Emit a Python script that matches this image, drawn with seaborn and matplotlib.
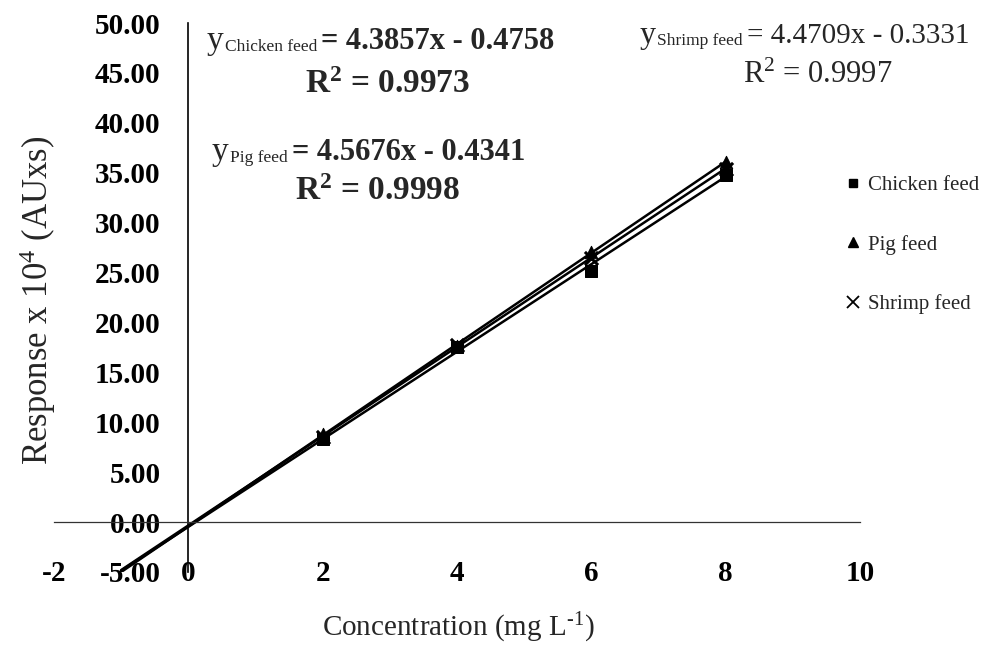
import numpy as np
import pandas as pd
import matplotlib
matplotlib.use("Agg")
import matplotlib.pyplot as plt
from matplotlib.lines import Line2D
import seaborn as sns

# Calibration data: response (x 10^4 AUxs) vs concentration (mg/L)
conc = [2, 4, 6, 8]
chicken = [8.3, 17.5, 25.2, 34.8]
pig = [8.8, 17.6, 27.1, 36.1]
shrimp = [8.5, 17.7, 26.5, 35.4]

series_names = ["Chicken feed", "Pig feed", "Shrimp feed"]
slopes = [4.3857, 4.5676, 4.4709]
intercepts = [-0.4758, -0.4341, -0.3331]
r_squared = [0.9973, 0.9998, 0.9997]
fit_range = [-1, 8]

x_ticks = [-2, 0, 2, 4, 6, 8, 10]
y_ticks = [-5, 0, 5, 10, 15, 20, 25, 30, 35, 40, 45, 50]

W, H = 989, 650

sns.set_theme(style="white")
plt.rcParams["font.family"] = ["Liberation Serif", "DejaVu Serif"]
plt.rcParams["mathtext.fontset"] = "custom"
plt.rcParams["mathtext.rm"] = "Liberation Serif"
plt.rcParams["mathtext.bf"] = "Liberation Serif:bold"
plt.rcParams["mathtext.it"] = "Liberation Serif:italic"

df = pd.DataFrame({
    "conc": conc * 3,
    "resp": chicken + pig + shrimp,
    "feed": sum([[n] * len(conc) for n in series_names], []),
})

fig = plt.figure(figsize=(W / 100, H / 100), dpi=100)
ax = fig.add_axes([54 / W, 1 - 572 / H, (860 - 54) / W, (572 - 23) / H])

# Linear trendlines from the fitted equations
xf = np.linspace(fit_range[0], fit_range[1], 50)
for m, b in zip(slopes, intercepts):
    sns.lineplot(x=xf, y=m * xf + b, color="black", linewidth=1.8, ax=ax)

markers = {"Chicken feed": "s", "Pig feed": "^", "Shrimp feed": "x"}
for name in series_names:
    sub = df[df["feed"] == name]
    if markers[name] == "x":
        sns.scatterplot(data=sub, x="conc", y="resp", marker="x", color="black",
                        s=90, linewidth=2.2, ax=ax, legend=False, zorder=5)
    else:
        sns.scatterplot(data=sub, x="conc", y="resp", marker=markers[name], color="black",
                        s=80, edgecolor="black", ax=ax, legend=False, zorder=5)

ax.set_xlim(-2, 10)
ax.set_ylim(-5, 50)
ax.set_xticks(x_ticks)
ax.set_yticks(y_ticks)
ax.set_yticklabels([f"{v:.2f}" for v in y_ticks])
ax.set_xticklabels([str(v) for v in x_ticks])
ax.set_xlabel("")
ax.set_ylabel("")

for side in ["top", "right"]:
    ax.spines[side].set_visible(False)
ax.spines["left"].set_position(("data", 0))
ax.spines["bottom"].set_position(("data", 0))
ax.spines["left"].set_color("black")
ax.spines["left"].set_linewidth(1.2)
ax.spines["bottom"].set_color("#333333")
ax.spines["bottom"].set_linewidth(0.9)

ax.tick_params(axis="x", direction="out", length=6, width=1, color="black",
               pad=21, labelsize=21, labelcolor="black")
ax.tick_params(axis="y", direction="out", length=8, width=1, color="black",
               pad=12, labelsize=21, labelcolor="black")
for lab in ax.get_xticklabels() + ax.get_yticklabels():
    lab.set_fontweight("bold")

fig.text(38 / W, 1 - 300 / H, r"Response x 10$^4$ (AUxs)", rotation=90,
         ha="center", va="center", fontsize=25)
fig.text(458 / W, 1 - 628 / H, r"Concentration (mg L$^{\text{-1}}$)",
         ha="center", va="center", fontsize=21)

# Legend
handles = [
    Line2D([], [], marker="s", color="black", linestyle="none", markersize=6),
    Line2D([], [], marker="^", color="black", linestyle="none", markersize=7),
    Line2D([], [], marker="x", color="black", linestyle="none", markersize=8, markeredgewidth=1.3),
]
fig.legend(handles, series_names, loc="center left",
           bbox_to_anchor=(826 / W, 1 - 245 / H), frameon=False, fontsize=15,
           labelspacing=1.9, handletextpad=0.3, handlelength=0.8)

# Regression equations
fig.canvas.draw()
renderer = fig.canvas.get_renderer()


def chained_text(x_px, base_px, pieces):
    x = x_px
    for txt, size, weight, dy, gap in pieces:
        t = fig.text(x / W, 1 - (base_px + dy) / H, txt, fontsize=size,
                     fontweight=weight, ha="left", va="baseline")
        x += t.get_window_extent(renderer).width + gap


eq_rows = [
    (207, 49, "Chicken feed", "bold", 22, slopes[0], intercepts[0]),
    (212, 160, "Pig feed", "bold", 22, slopes[1], intercepts[1]),
    (640, 43, "Shrimp feed", "normal", 21, slopes[2], intercepts[2]),
]
for x0, base, name, weight, size, m, b in eq_rows:
    chained_text(x0, base, [
        ("y", size + 2, "normal", 0, 1),
        (name, 12.5, "normal", 2, 4),
        (f"= {m:.4f}x - {abs(b):.4f}", size, weight, 0, 0),
    ])

r2_rows = [
    (388, 93, r_squared[0], "bold", 24),
    (378, 200, r_squared[1], "bold", 24),
    (818, 83, r_squared[2], "normal", 22),
]
for xc, base, r2, weight, size in r2_rows:
    sup = r"$^{\mathbf{2}}$" if weight == "bold" else r"$^{2}$"
    fig.text(xc / W, 1 - base / H, f"R{sup} = {r2:.4f}", fontsize=size,
             fontweight=weight, ha="center", va="baseline")

fig.savefig("out.png", dpi=100, facecolor="white")
